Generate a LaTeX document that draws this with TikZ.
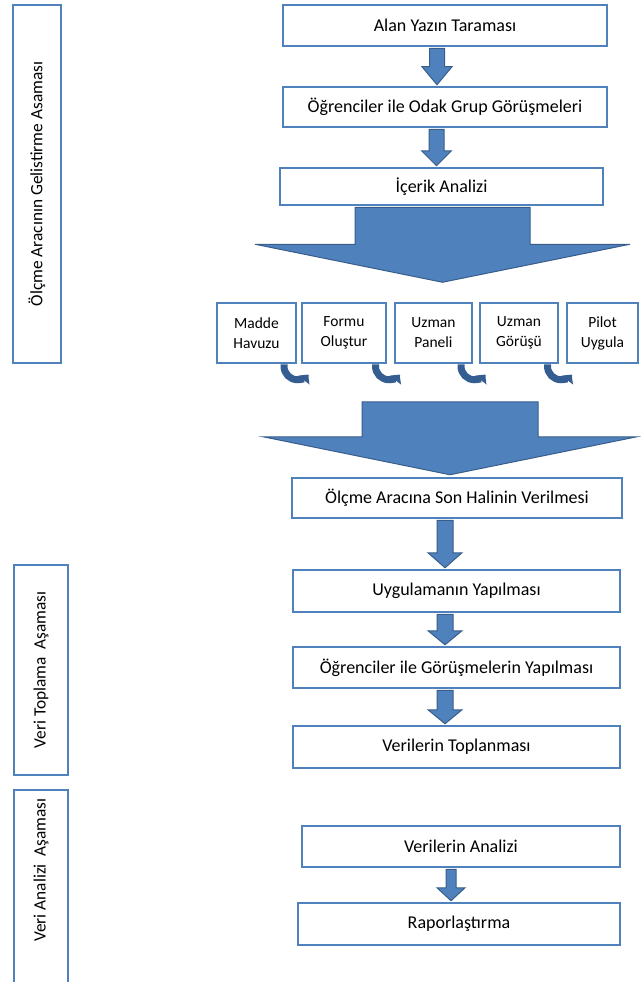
\documentclass[tikz,border=0pt]{standalone}
\usepackage{fontspec}
\usepackage{graphicx}
\setmainfont{Carlito}
\usetikzlibrary{calc,arrows.meta}
\definecolor{bxblue}{RGB}{79,129,189}
\definecolor{bxedge}{RGB}{56,93,138}
\definecolor{cvblue}{RGB}{52,94,146}
\newcommand\blockarr[5]{%
\draw[barrow] let \p1=(#1), \p2=(#2) in (\x2-#3,\y1) -- (\x2+#3,\y1) -- (\x2+#3,\y2+#5) -- (\x2+#4,\y2+#5) -- (\x2,\y2) -- (\x2-#4,\y2+#5) -- (\x2-#3,\y2+#5) -- cycle;}
\begin{document}
\begin{tikzpicture}[x=1pt,y=-1pt]
\useasboundingbox (0,0) rectangle (640,982);
\tikzset{
 box/.style={draw=bxblue, line width=2.5pt, fill=white, inner sep=0pt, font=\fontsize{18}{20}\selectfont},
 sbox/.style={box, font=\fontsize{15.5}{20}\selectfont, align=center, minimum height=60},
 side/.style={box, font=\fontsize{17.3}{20}\selectfont},
 barrow/.style={fill=bxblue, draw=bxedge, line width=1pt, line join=miter},
 curv/.style={draw=cvblue, line width=7pt, -{Triangle[width=14pt,length=7pt]}},
}
% left phase boxes
\node[side, minimum width=48, minimum height=358] (L1) at (37,184) {\rotatebox{90}{Ölçme Aracının Gelistirme Asaması}};
\node[side, minimum width=54, minimum height=210] (L2) at (41,670) {\rotatebox{90}{Veri Toplama\ \ Aşaması}};
\node[side, minimum width=54, minimum height=200] (L3) at (41,890) {};
\node[font=\fontsize{17.3}{20}\selectfont, inner sep=0pt] (L3t) at (41,870) {\rotatebox{90}{Veri Analizi\ \ Aşaması}};
% main boxes
\node[box, minimum width=324, minimum height=41] (A) at (445,25.5) {Alan Yazın Taraması};
\node[box, minimum width=324, minimum height=40] (B) at (445,107) {Öğrenciler ile Odak Grup Görüşmeleri};
\node[box, minimum width=323, minimum height=37] (C) at (441.5,186.5) {İçerik Analizi};
\node[sbox, minimum width=79] (b1) at (256.5,333) {Madde\\Havuzu};
\node[sbox, minimum width=84] (b2) at (344,333) {Formu\\Oluştur};
\node[sbox, minimum width=77] (b3) at (433.5,333) {Uzman\\Paneli};
\node[sbox, minimum width=78] (b4) at (519,333) {Uzman\\Görüşü};
\node[sbox, minimum width=71] (b5) at (602.5,333) {Pilot\\Uygula};
\node[box, minimum width=330, minimum height=40] (D) at (457,498) {Ölçme Aracına Son Halinin Verilmesi};
\node[box, minimum width=327, minimum height=42] (E) at (456.5,591) {Uygulamanın Yapılması};
\node[box, minimum width=327, minimum height=41] (F) at (456.5,667.5) {Öğrenciler ile Görüşmelerin Yapılması};
\node[box, minimum width=327, minimum height=42] (G) at (456.5,747) {Verilerin Toplanması};
\node[box, minimum width=318, minimum height=41] (H) at (461,846.5) {Verilerin Analizi};
\node[box, minimum width=322, minimum height=42] (I) at (459,924) {Raporlaştırma};
% block arrows
\blockarr{$(A.south)+(0,1.2)$}{$(B.north)+(-8,-1)$}{7.5pt}{15pt}{18pt}
\blockarr{$(B.south)+(0,1.2)$}{$(C.north)+(-5,-1)$}{7.5pt}{15pt}{15pt}
\blockarr{$(C.south)+(0,1.2)$}{$(C.south)+(1,76)$}{87.5pt}{187.5pt}{38pt}
\blockarr{$(D.north)+(-7,-75)$}{$(D.north)+(-7,-2)$}{88pt}{187pt}{38pt}
\blockarr{$(D.south)+(0,1.2)$}{$(E.north)+(-11.5,-1)$}{8pt}{17pt}{15pt}
\blockarr{$(E.south)+(0,1.2)$}{$(F.north)+(-11.5,-1)$}{8pt}{17pt}{14pt}
\blockarr{$(F.south)+(0,1.2)$}{$(G.north)+(-11.5,-1)$}{8pt}{17pt}{14pt}
\blockarr{$(H.south)+(0,1.2)$}{$(I.north)+(-8,-1)$}{5pt}{14pt}{13pt}
% curved arrows
\foreach \p/\q in {b1/b2,b2/b3,b3/b4,b4/b5}{
 \draw[curv] ($($(\p.south east)!0.5!(\q.south west)$)+(-15,0)$) -- ++(0,2) arc[start angle=180, end angle=38, radius=13.5];
}
\end{tikzpicture}
\end{document}
